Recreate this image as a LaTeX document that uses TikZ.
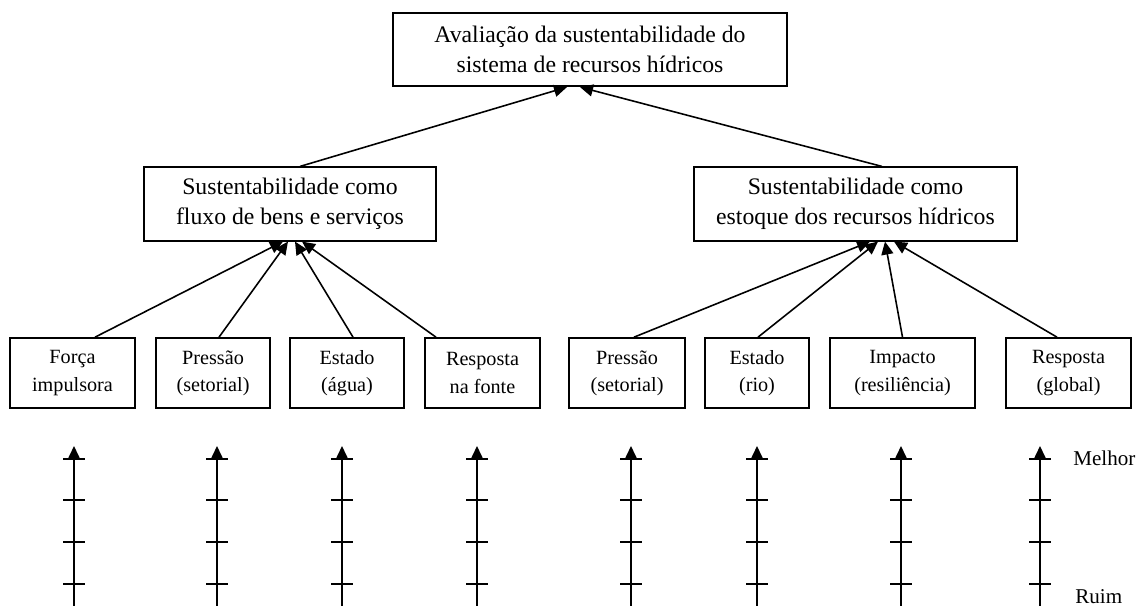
\documentclass[tikz,border=0pt]{standalone}
\usepackage{fontspec}
\setmainfont{Liberation Serif}
\usetikzlibrary{arrows.meta,calc}

\begin{document}
\begin{tikzpicture}[x=0.02cm, y=-0.02cm,
  caixa/.style={draw=black, line width=0.95pt, align=center, inner sep=0pt},
  grande/.style={caixa, font=\fontsize{13.5}{17}\selectfont, minimum height=1.47cm},
  pequena/.style={caixa, font=\fontsize{11.5}{15.5}\selectfont, minimum height=1.4cm},
  rotulo/.style={anchor=base west, inner sep=0pt, font=\fontsize{12}{14}\selectfont},
  arr/.style={-{Triangle[length=0.26cm,width=0.24cm]}, line width=0.9pt},
  traco/.style={line width=0.9pt}
]
  \useasboundingbox (0,0) rectangle (1139,605);

  % Nodes
  \node[grande, minimum width=7.88cm] (aval)    at (590,49.5) {Avaliação da sustentabilidade do\\sistema de recursos hídricos};
  \node[grande, minimum width=5.84cm] (fluxo)   at (290,204)  {Sustentabilidade como\\fluxo de bens e serviços};
  \node[grande, minimum width=6.46cm] (estoque) at (855.5,204) {Sustentabilidade como\\estoque dos recursos hídricos};

  \node[pequena, minimum width=2.50cm] (forca)     at (72.5,373)  {Força\\impulsora};
  \node[pequena, minimum width=2.28cm] (pressaoA)  at (213,373)   {Pressão\\(setorial)};
  \node[pequena, minimum width=2.28cm] (estadoA)   at (347,373)   {Estado\\(água)};
  \node[pequena, minimum width=2.30cm] (respostaA) at (482.5,373) {Resposta\\na fonte};
  \node[pequena, minimum width=2.32cm] (pressaoB)  at (627,373)   {Pressão\\(setorial)};
  \node[pequena, minimum width=2.08cm] (estadoB)   at (757,373)   {Estado\\(rio)};
  \node[pequena, minimum width=2.90cm] (impacto)   at (902.5,373) {Impacto\\(resiliência)};
  \node[pequena, minimum width=2.50cm] (respostaB) at (1068.5,373) {Resposta\\(global)};

  \node[rotulo] (melhor) at (1073,465) {Melhor};
  \node[rotulo] (ruim)   at (1075,603) {Ruim};

  % Paths
  \draw[arr] ($(fluxo.north)+(10,0)$)     -- ($(aval.south)+(-23,0)$);
  \draw[arr] ($(estoque.north)+(26.5,0)$) -- ($(aval.south)+(-10,0)$);

  \draw[arr] ($(forca.north)+(22.5,0)$)     -- ($(fluxo.south)+(-7,0)$);
  \draw[arr] ($(pressaoA.north)+(6,0)$)     -- ($(fluxo.south)+(-2,0)$);
  \draw[arr] ($(estadoA.north)+(6,0)$)      -- ($(fluxo.south)+(5,0)$);
  \draw[arr] ($(respostaA.north)+(-46.5,0)$) -- ($(fluxo.south)+(12,0)$);

  \draw[arr] ($(pressaoB.north)+(7,0)$)     -- ($(estoque.south)+(14.5,0)$);
  \draw[arr] ($(estadoB.north)+(1,0)$)      -- ($(estoque.south)+(22.5,0)$);
  \draw[arr] (impacto.north)                -- ($(estoque.south)+(29.5,0)$);
  \draw[arr] ($(respostaB.north)+(-11.5,0)$) -- ($(estoque.south)+(38.5,0)$);

  % Scales
  \foreach \x [count=\i] in {74,217,342,477,631,757,901,1040} {
    \coordinate (base\i) at (\x,612);
    \coordinate (topo\i) at (\x,446);
    \draw[arr] (base\i) -- (topo\i);
    \foreach \y in {459,500,542,584}
      \draw[traco] (\x-11,\y) -- (\x+11,\y);
  }
\end{tikzpicture}
\end{document}
